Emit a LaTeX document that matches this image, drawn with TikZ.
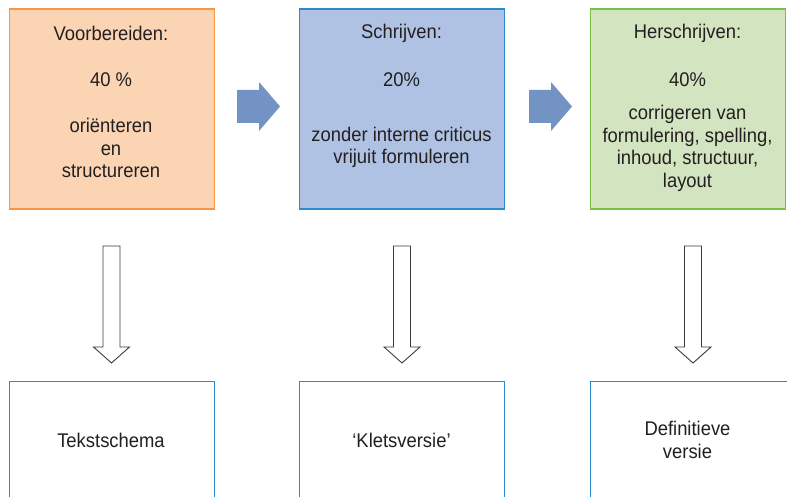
\documentclass[tikz,border=0pt]{standalone}
\usepackage{fontspec}
\setmainfont{Liberation Sans}[FakeStretch=0.93]
\definecolor{txt}{HTML}{231F20}
\definecolor{orfill}{HTML}{FBD4B4}
\definecolor{ordraw}{HTML}{F79646}
\definecolor{blfill}{HTML}{B0C2E4}
\definecolor{bldraw}{HTML}{2E8AD0}
\definecolor{grfill}{HTML}{D3E4C0}
\definecolor{grdraw}{HTML}{77C04A}
\definecolor{arfill}{HTML}{7393C4}
\definecolor{dnline}{HTML}{3A3A3A}
\tikzset{
  phase/.style={draw, line width=1.4pt, minimum width=205pt, minimum height=200pt, inner sep=0pt},
  result/.style={draw=bldraw, fill=white, line width=1.4pt, minimum width=205pt, minimum height=200pt, inner sep=0pt},
  lbl/.style={text=txt, font=\fontsize{19.8}{22.5}\selectfont, align=center, inner sep=0pt},
  rarrow/.pic={\fill[arfill] (0,-16.5) -- (22,-16.5) -- (22,-24.5) -- (43,0) -- (22,24.5) -- (22,16.5) -- (0,16.5) -- cycle;},
  darrow/.pic={\draw[dnline, line width=0.9pt, fill=white, line join=miter] (-8.5,0) -- (8.5,0) -- (8.5,101) -- (18,101) -- (0,117) -- (-18,101) -- (-8.5,101) -- cycle;}
}
\begin{document}
\begin{tikzpicture}[x=1pt,y=-1pt]
\useasboundingbox (0,0) rectangle (787,497);
\begin{scope}
\clip (0,0) rectangle (787,497);
\node[phase, draw=ordraw, fill=orfill, anchor=north west] (p1) at (8.5,8.5) {};
\node[phase, draw=bldraw, fill=blfill, anchor=north west] (p2) at (299,8.5) {};
\node[phase, draw=grdraw, fill=grfill, anchor=north west, minimum width=195pt] (p3) at (590,8.5) {};
\node[result, anchor=north west] (r1) at (8.5,381) {};
\node[result, anchor=north west] (r2) at (299,381) {};
\node[result, anchor=north west] (r3) at (590,381) {};
\end{scope}
% phase texts
\node[lbl] (t1a) at (111,33) {Voorbereiden:};
\node[lbl] (t1b) at (111,80) {40 \%};
\node[lbl] (t1c) at (111,148) {oriënteren\\en\\structureren};
\node[lbl] (t2a) at (401.5,33) {Schrijven:};
\node[lbl] (t2b) at (401.5,80) {20\%};
\node[lbl] (t2c) at (401.5,147.5) {zonder interne criticus\\vrijuit formuleren};
\node[lbl] (t3a) at (687.5,33) {Herschrijven:};
\node[lbl] (t3b) at (687.5,80) {40\%};
\node[lbl] (t3c) at (687.5,148.5) {corrigeren van\\formulering, spelling,\\inhoud, structuur,\\layout};
% result texts
\node[lbl] (u1) at (111,440) {Tekstschema};
\node[lbl] (u2) at (401.5,440) {‘Kletsversie’};
\node[lbl] (u3) at (687.5,440) {Definitieve\\versie};
% arrows
\pic at (237,106.5) {rarrow};
\pic at (529,106.5) {rarrow};
\pic at (111.5,246) {darrow};
\pic at (402,246) {darrow};
\pic at (693,246) {darrow};
\end{tikzpicture}
\end{document}
